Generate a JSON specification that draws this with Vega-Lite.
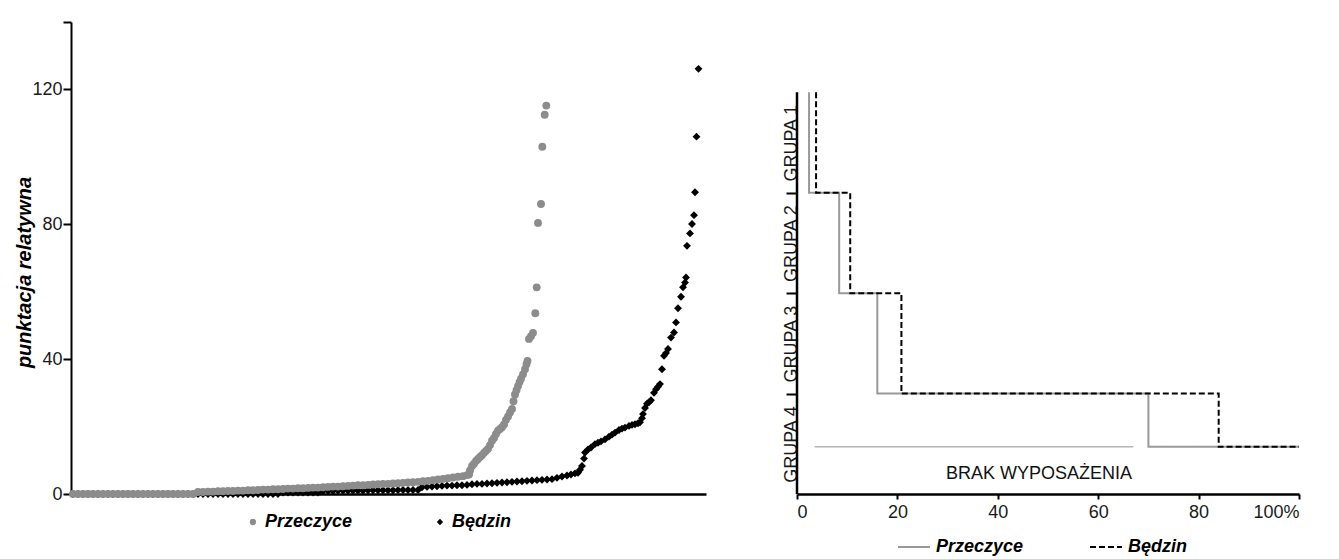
{
  "$schema": "https://vega.github.io/schema/vega-lite/v6.json",
  "background": "white",
  "padding": {"left": 14, "top": 21, "right": 0, "bottom": 0},
  "config": {
    "font": "Liberation Sans",
    "view": {"stroke": null},
    "axis": {
      "grid": false,
      "domainColor": "#000000",
      "domainWidth": 2,
      "tickColor": "#000000",
      "tickWidth": 1.5,
      "labelFont": "Liberation Sans",
      "labelFontSize": 18,
      "labelColor": "#1a1a1a"
    }
  },
  "resolve": {
    "scale": {"color": "independent", "shape": "independent", "strokeDash": "independent"},
    "legend": {"color": "independent", "shape": "independent", "strokeDash": "independent"}
  },
  "spacing": 75,
  "hconcat": [
    {
      "width": 635,
      "height": 472,
      "data": {
        "values": [
          {"miasto": "Będzin", "nr": 2, "punkty": 0}, {"miasto": "Będzin", "nr": 7, "punkty": 0}, {"miasto": "Będzin", "nr": 12, "punkty": 0},
          {"miasto": "Będzin", "nr": 17, "punkty": 0}, {"miasto": "Będzin", "nr": 22, "punkty": 0}, {"miasto": "Będzin", "nr": 27, "punkty": 0},
          {"miasto": "Będzin", "nr": 32, "punkty": 0}, {"miasto": "Będzin", "nr": 37, "punkty": 0}, {"miasto": "Będzin", "nr": 42, "punkty": 0},
          {"miasto": "Będzin", "nr": 47, "punkty": 0}, {"miasto": "Będzin", "nr": 52, "punkty": 0}, {"miasto": "Będzin", "nr": 57, "punkty": 0},
          {"miasto": "Będzin", "nr": 62, "punkty": 0}, {"miasto": "Będzin", "nr": 67, "punkty": 0}, {"miasto": "Będzin", "nr": 72, "punkty": 0},
          {"miasto": "Będzin", "nr": 77, "punkty": 0}, {"miasto": "Będzin", "nr": 82, "punkty": 0}, {"miasto": "Będzin", "nr": 87, "punkty": 0},
          {"miasto": "Będzin", "nr": 92, "punkty": 0}, {"miasto": "Będzin", "nr": 97, "punkty": 0}, {"miasto": "Będzin", "nr": 102, "punkty": 0},
          {"miasto": "Będzin", "nr": 107, "punkty": 0}, {"miasto": "Będzin", "nr": 112, "punkty": 0}, {"miasto": "Będzin", "nr": 117, "punkty": 0},
          {"miasto": "Będzin", "nr": 122, "punkty": 0}, {"miasto": "Będzin", "nr": 127, "punkty": 0}, {"miasto": "Będzin", "nr": 132, "punkty": 0},
          {"miasto": "Będzin", "nr": 137, "punkty": 0}, {"miasto": "Będzin", "nr": 142, "punkty": 0}, {"miasto": "Będzin", "nr": 147, "punkty": 0},
          {"miasto": "Będzin", "nr": 152, "punkty": 0}, {"miasto": "Będzin", "nr": 157, "punkty": 0}, {"miasto": "Będzin", "nr": 162, "punkty": 0},
          {"miasto": "Będzin", "nr": 167, "punkty": 0}, {"miasto": "Będzin", "nr": 172, "punkty": 0}, {"miasto": "Będzin", "nr": 177, "punkty": 0},
          {"miasto": "Będzin", "nr": 182, "punkty": 0}, {"miasto": "Będzin", "nr": 187, "punkty": 0}, {"miasto": "Będzin", "nr": 192, "punkty": 0},
          {"miasto": "Będzin", "nr": 197, "punkty": 0}, {"miasto": "Będzin", "nr": 202, "punkty": 0}, {"miasto": "Będzin", "nr": 207, "punkty": 0},
          {"miasto": "Będzin", "nr": 212, "punkty": 0.4}, {"miasto": "Będzin", "nr": 217, "punkty": 0.4}, {"miasto": "Będzin", "nr": 222, "punkty": 0.4},
          {"miasto": "Będzin", "nr": 227, "punkty": 0.4}, {"miasto": "Będzin", "nr": 232, "punkty": 0.4}, {"miasto": "Będzin", "nr": 237, "punkty": 0.4},
          {"miasto": "Będzin", "nr": 242, "punkty": 0.4}, {"miasto": "Będzin", "nr": 247, "punkty": 0.4},
          {"miasto": "Będzin", "nr": 252, "punkty": 0.9}, {"miasto": "Będzin", "nr": 257, "punkty": 0.9}, {"miasto": "Będzin", "nr": 262, "punkty": 0.9},
          {"miasto": "Będzin", "nr": 267, "punkty": 1.0}, {"miasto": "Będzin", "nr": 272, "punkty": 1.0}, {"miasto": "Będzin", "nr": 277, "punkty": 1.0},
          {"miasto": "Będzin", "nr": 282, "punkty": 1.0}, {"miasto": "Będzin", "nr": 287, "punkty": 1.0}, {"miasto": "Będzin", "nr": 292, "punkty": 1.0},
          {"miasto": "Będzin", "nr": 297, "punkty": 1.1}, {"miasto": "Będzin", "nr": 302, "punkty": 1.1}, {"miasto": "Będzin", "nr": 307, "punkty": 1.1},
          {"miasto": "Będzin", "nr": 312, "punkty": 1.1}, {"miasto": "Będzin", "nr": 317, "punkty": 1.1}, {"miasto": "Będzin", "nr": 322, "punkty": 1.1},
          {"miasto": "Będzin", "nr": 327, "punkty": 1.2}, {"miasto": "Będzin", "nr": 332, "punkty": 1.2}, {"miasto": "Będzin", "nr": 337, "punkty": 1.2},
          {"miasto": "Będzin", "nr": 342, "punkty": 1.2}, {"miasto": "Będzin", "nr": 347, "punkty": 1.2},
          {"miasto": "Będzin", "nr": 351, "punkty": 2.0}, {"miasto": "Będzin", "nr": 356, "punkty": 2.1}, {"miasto": "Będzin", "nr": 361, "punkty": 2.2},
          {"miasto": "Będzin", "nr": 366, "punkty": 2.3}, {"miasto": "Będzin", "nr": 371, "punkty": 2.4}, {"miasto": "Będzin", "nr": 376, "punkty": 2.5},
          {"miasto": "Będzin", "nr": 381, "punkty": 2.5}, {"miasto": "Będzin", "nr": 386, "punkty": 2.6}, {"miasto": "Będzin", "nr": 391, "punkty": 2.6},
          {"miasto": "Będzin", "nr": 396, "punkty": 2.7}, {"miasto": "Będzin", "nr": 401, "punkty": 2.9}, {"miasto": "Będzin", "nr": 406, "punkty": 3.0},
          {"miasto": "Będzin", "nr": 411, "punkty": 3.0}, {"miasto": "Będzin", "nr": 416, "punkty": 3.1}, {"miasto": "Będzin", "nr": 421, "punkty": 3.2},
          {"miasto": "Będzin", "nr": 426, "punkty": 3.3}, {"miasto": "Będzin", "nr": 431, "punkty": 3.4}, {"miasto": "Będzin", "nr": 436, "punkty": 3.5},
          {"miasto": "Będzin", "nr": 441, "punkty": 3.6}, {"miasto": "Będzin", "nr": 446, "punkty": 3.7}, {"miasto": "Będzin", "nr": 451, "punkty": 3.8},
          {"miasto": "Będzin", "nr": 456, "punkty": 3.9}, {"miasto": "Będzin", "nr": 461, "punkty": 4.0}, {"miasto": "Będzin", "nr": 466, "punkty": 4.1},
          {"miasto": "Będzin", "nr": 471, "punkty": 4.2}, {"miasto": "Będzin", "nr": 476, "punkty": 4.3}, {"miasto": "Będzin", "nr": 481, "punkty": 4.4},
          {"miasto": "Będzin", "nr": 486, "punkty": 4.8}, {"miasto": "Będzin", "nr": 491, "punkty": 5.2}, {"miasto": "Będzin", "nr": 496, "punkty": 5.5},
          {"miasto": "Będzin", "nr": 500, "punkty": 5.8}, {"miasto": "Będzin", "nr": 504, "punkty": 6.1}, {"miasto": "Będzin", "nr": 507, "punkty": 6.3},
          {"miasto": "Będzin", "nr": 509, "punkty": 7.2}, {"miasto": "Będzin", "nr": 511, "punkty": 8.3}, {"miasto": "Będzin", "nr": 513, "punkty": 10.5},
          {"miasto": "Będzin", "nr": 514, "punkty": 12.3}, {"miasto": "Będzin", "nr": 517, "punkty": 13.2}, {"miasto": "Będzin", "nr": 520, "punkty": 13.8},
          {"miasto": "Będzin", "nr": 524, "punkty": 14.8}, {"miasto": "Będzin", "nr": 527, "punkty": 15.2}, {"miasto": "Będzin", "nr": 530, "punkty": 15.6},
          {"miasto": "Będzin", "nr": 534, "punkty": 16.2}, {"miasto": "Będzin", "nr": 538, "punkty": 17.0}, {"miasto": "Będzin", "nr": 541, "punkty": 17.6},
          {"miasto": "Będzin", "nr": 544, "punkty": 18.2}, {"miasto": "Będzin", "nr": 548, "punkty": 19.0}, {"miasto": "Będzin", "nr": 551, "punkty": 19.4},
          {"miasto": "Będzin", "nr": 554, "punkty": 19.7}, {"miasto": "Będzin", "nr": 558, "punkty": 20.2}, {"miasto": "Będzin", "nr": 561, "punkty": 20.5},
          {"miasto": "Będzin", "nr": 564, "punkty": 20.7}, {"miasto": "Będzin", "nr": 567, "punkty": 21.0}, {"miasto": "Będzin", "nr": 569, "punkty": 21.3},
          {"miasto": "Będzin", "nr": 571, "punkty": 22.5}, {"miasto": "Będzin", "nr": 572, "punkty": 23.7}, {"miasto": "Będzin", "nr": 574, "punkty": 25.5},
          {"miasto": "Będzin", "nr": 576, "punkty": 26.8}, {"miasto": "Będzin", "nr": 578, "punkty": 27.2}, {"miasto": "Będzin", "nr": 580, "punkty": 27.8},
          {"miasto": "Będzin", "nr": 583, "punkty": 30.0}, {"miasto": "Będzin", "nr": 585, "punkty": 31.1}, {"miasto": "Będzin", "nr": 587, "punkty": 31.8},
          {"miasto": "Będzin", "nr": 589, "punkty": 32.6}, {"miasto": "Będzin", "nr": 591, "punkty": 37.0}, {"miasto": "Będzin", "nr": 593, "punkty": 41.0},
          {"miasto": "Będzin", "nr": 595, "punkty": 41.8}, {"miasto": "Będzin", "nr": 597, "punkty": 43.0}, {"miasto": "Będzin", "nr": 600, "punkty": 46.4},
          {"miasto": "Będzin", "nr": 603, "punkty": 47.9}, {"miasto": "Będzin", "nr": 605, "punkty": 50.9}, {"miasto": "Będzin", "nr": 607, "punkty": 55.1},
          {"miasto": "Będzin", "nr": 610, "punkty": 58.5}, {"miasto": "Będzin", "nr": 612, "punkty": 61.3}, {"miasto": "Będzin", "nr": 614, "punkty": 62.7},
          {"miasto": "Będzin", "nr": 615, "punkty": 64.2}, {"miasto": "Będzin", "nr": 616, "punkty": 73.6}, {"miasto": "Będzin", "nr": 619, "punkty": 77.3},
          {"miasto": "Będzin", "nr": 621, "punkty": 80.1}, {"miasto": "Będzin", "nr": 623, "punkty": 82.7}, {"miasto": "Będzin", "nr": 624, "punkty": 89.5},
          {"miasto": "Będzin", "nr": 625.5, "punkty": 106.0}, {"miasto": "Będzin", "nr": 627.5, "punkty": 126.1},

          {"miasto": "Przeczyce", "nr": 2, "punkty": 0}, {"miasto": "Przeczyce", "nr": 7, "punkty": 0}, {"miasto": "Przeczyce", "nr": 12, "punkty": 0},
          {"miasto": "Przeczyce", "nr": 17, "punkty": 0}, {"miasto": "Przeczyce", "nr": 22, "punkty": 0}, {"miasto": "Przeczyce", "nr": 27, "punkty": 0},
          {"miasto": "Przeczyce", "nr": 32, "punkty": 0}, {"miasto": "Przeczyce", "nr": 37, "punkty": 0}, {"miasto": "Przeczyce", "nr": 42, "punkty": 0},
          {"miasto": "Przeczyce", "nr": 47, "punkty": 0}, {"miasto": "Przeczyce", "nr": 52, "punkty": 0}, {"miasto": "Przeczyce", "nr": 57, "punkty": 0},
          {"miasto": "Przeczyce", "nr": 62, "punkty": 0}, {"miasto": "Przeczyce", "nr": 67, "punkty": 0}, {"miasto": "Przeczyce", "nr": 72, "punkty": 0},
          {"miasto": "Przeczyce", "nr": 77, "punkty": 0}, {"miasto": "Przeczyce", "nr": 82, "punkty": 0}, {"miasto": "Przeczyce", "nr": 87, "punkty": 0},
          {"miasto": "Przeczyce", "nr": 92, "punkty": 0}, {"miasto": "Przeczyce", "nr": 97, "punkty": 0}, {"miasto": "Przeczyce", "nr": 102, "punkty": 0},
          {"miasto": "Przeczyce", "nr": 107, "punkty": 0}, {"miasto": "Przeczyce", "nr": 112, "punkty": 0}, {"miasto": "Przeczyce", "nr": 117, "punkty": 0},
          {"miasto": "Przeczyce", "nr": 122, "punkty": 0},
          {"miasto": "Przeczyce", "nr": 127, "punkty": 0.6}, {"miasto": "Przeczyce", "nr": 132, "punkty": 0.6}, {"miasto": "Przeczyce", "nr": 137, "punkty": 0.7},
          {"miasto": "Przeczyce", "nr": 142, "punkty": 0.7}, {"miasto": "Przeczyce", "nr": 147, "punkty": 0.8}, {"miasto": "Przeczyce", "nr": 152, "punkty": 0.8},
          {"miasto": "Przeczyce", "nr": 157, "punkty": 0.9}, {"miasto": "Przeczyce", "nr": 162, "punkty": 0.9}, {"miasto": "Przeczyce", "nr": 167, "punkty": 1.0},
          {"miasto": "Przeczyce", "nr": 172, "punkty": 1.0}, {"miasto": "Przeczyce", "nr": 177, "punkty": 1.1}, {"miasto": "Przeczyce", "nr": 182, "punkty": 1.1},
          {"miasto": "Przeczyce", "nr": 187, "punkty": 1.2}, {"miasto": "Przeczyce", "nr": 192, "punkty": 1.3}, {"miasto": "Przeczyce", "nr": 197, "punkty": 1.3},
          {"miasto": "Przeczyce", "nr": 202, "punkty": 1.4}, {"miasto": "Przeczyce", "nr": 207, "punkty": 1.4}, {"miasto": "Przeczyce", "nr": 212, "punkty": 1.5},
          {"miasto": "Przeczyce", "nr": 217, "punkty": 1.6}, {"miasto": "Przeczyce", "nr": 222, "punkty": 1.6}, {"miasto": "Przeczyce", "nr": 227, "punkty": 1.7},
          {"miasto": "Przeczyce", "nr": 232, "punkty": 1.7}, {"miasto": "Przeczyce", "nr": 237, "punkty": 1.8}, {"miasto": "Przeczyce", "nr": 242, "punkty": 1.9},
          {"miasto": "Przeczyce", "nr": 247, "punkty": 1.9}, {"miasto": "Przeczyce", "nr": 252, "punkty": 2.0}, {"miasto": "Przeczyce", "nr": 257, "punkty": 2.1},
          {"miasto": "Przeczyce", "nr": 262, "punkty": 2.2}, {"miasto": "Przeczyce", "nr": 267, "punkty": 2.2}, {"miasto": "Przeczyce", "nr": 272, "punkty": 2.3},
          {"miasto": "Przeczyce", "nr": 277, "punkty": 2.4}, {"miasto": "Przeczyce", "nr": 282, "punkty": 2.5}, {"miasto": "Przeczyce", "nr": 287, "punkty": 2.6},
          {"miasto": "Przeczyce", "nr": 292, "punkty": 2.6}, {"miasto": "Przeczyce", "nr": 297, "punkty": 2.7}, {"miasto": "Przeczyce", "nr": 302, "punkty": 2.8},
          {"miasto": "Przeczyce", "nr": 307, "punkty": 2.9}, {"miasto": "Przeczyce", "nr": 312, "punkty": 3.0}, {"miasto": "Przeczyce", "nr": 317, "punkty": 3.0},
          {"miasto": "Przeczyce", "nr": 322, "punkty": 3.1}, {"miasto": "Przeczyce", "nr": 327, "punkty": 3.2}, {"miasto": "Przeczyce", "nr": 332, "punkty": 3.3},
          {"miasto": "Przeczyce", "nr": 337, "punkty": 3.4}, {"miasto": "Przeczyce", "nr": 342, "punkty": 3.5}, {"miasto": "Przeczyce", "nr": 347, "punkty": 3.6},
          {"miasto": "Przeczyce", "nr": 352, "punkty": 3.8}, {"miasto": "Przeczyce", "nr": 357, "punkty": 3.9}, {"miasto": "Przeczyce", "nr": 362, "punkty": 4.1},
          {"miasto": "Przeczyce", "nr": 367, "punkty": 4.3}, {"miasto": "Przeczyce", "nr": 372, "punkty": 4.5}, {"miasto": "Przeczyce", "nr": 377, "punkty": 4.7},
          {"miasto": "Przeczyce", "nr": 382, "punkty": 4.9}, {"miasto": "Przeczyce", "nr": 387, "punkty": 5.1}, {"miasto": "Przeczyce", "nr": 392, "punkty": 5.3},
          {"miasto": "Przeczyce", "nr": 396, "punkty": 5.6}, {"miasto": "Przeczyce", "nr": 398, "punkty": 5.8}, {"miasto": "Przeczyce", "nr": 399, "punkty": 7.0},
          {"miasto": "Przeczyce", "nr": 401, "punkty": 8.3}, {"miasto": "Przeczyce", "nr": 403, "punkty": 9.0}, {"miasto": "Przeczyce", "nr": 405, "punkty": 9.8},
          {"miasto": "Przeczyce", "nr": 407, "punkty": 10.4}, {"miasto": "Przeczyce", "nr": 409, "punkty": 11.0}, {"miasto": "Przeczyce", "nr": 411, "punkty": 11.5},
          {"miasto": "Przeczyce", "nr": 413, "punkty": 12.2}, {"miasto": "Przeczyce", "nr": 415, "punkty": 12.8}, {"miasto": "Przeczyce", "nr": 417, "punkty": 13.4},
          {"miasto": "Przeczyce", "nr": 419, "punkty": 14.5}, {"miasto": "Przeczyce", "nr": 421, "punkty": 15.8}, {"miasto": "Przeczyce", "nr": 423, "punkty": 16.6},
          {"miasto": "Przeczyce", "nr": 425, "punkty": 17.8}, {"miasto": "Przeczyce", "nr": 427, "punkty": 18.8}, {"miasto": "Przeczyce", "nr": 429, "punkty": 19.3},
          {"miasto": "Przeczyce", "nr": 431, "punkty": 19.8}, {"miasto": "Przeczyce", "nr": 433, "punkty": 20.6}, {"miasto": "Przeczyce", "nr": 435, "punkty": 22.0},
          {"miasto": "Przeczyce", "nr": 437, "punkty": 23.0}, {"miasto": "Przeczyce", "nr": 439, "punkty": 24.2}, {"miasto": "Przeczyce", "nr": 441, "punkty": 25.2},
          {"miasto": "Przeczyce", "nr": 442.5, "punkty": 27.5}, {"miasto": "Przeczyce", "nr": 444, "punkty": 29.5}, {"miasto": "Przeczyce", "nr": 445.5, "punkty": 30.8},
          {"miasto": "Przeczyce", "nr": 447, "punkty": 32.0}, {"miasto": "Przeczyce", "nr": 448.5, "punkty": 33.2}, {"miasto": "Przeczyce", "nr": 450, "punkty": 34.2},
          {"miasto": "Przeczyce", "nr": 452, "punkty": 35.5}, {"miasto": "Przeczyce", "nr": 454, "punkty": 37.0}, {"miasto": "Przeczyce", "nr": 455.5, "punkty": 38.5},
          {"miasto": "Przeczyce", "nr": 456.5, "punkty": 39.5}, {"miasto": "Przeczyce", "nr": 458, "punkty": 46.0}, {"miasto": "Przeczyce", "nr": 460, "punkty": 46.8},
          {"miasto": "Przeczyce", "nr": 462, "punkty": 47.8}, {"miasto": "Przeczyce", "nr": 464.3, "punkty": 53.6}, {"miasto": "Przeczyce", "nr": 465.7, "punkty": 61.3},
          {"miasto": "Przeczyce", "nr": 467, "punkty": 80.4}, {"miasto": "Przeczyce", "nr": 470, "punkty": 86.0}, {"miasto": "Przeczyce", "nr": 471.3, "punkty": 103.0},
          {"miasto": "Przeczyce", "nr": 473.7, "punkty": 112.5}, {"miasto": "Przeczyce", "nr": 475.3, "punkty": 115.2}
        ]
      },
      "mark": {"type": "point", "filled": true, "opacity": 1, "size": 62},
      "encoding": {
        "x": {
          "field": "nr", "type": "quantitative",
          "scale": {"domain": [0, 635], "nice": false, "zero": false},
          "axis": {"title": null, "labels": false, "ticks": false, "domainColor": "#000000", "domainWidth": 2.5}
        },
        "y": {
          "field": "punkty", "type": "quantitative",
          "scale": {"domain": [0, 140], "nice": false},
          "axis": {
            "title": "punktacja relatywna",
            "values": [0, 40, 80, 120, 140],
            "labelExpr": "datum.value == 140 ? '' : datum.label",
            "domainColor": "#000000",
            "domainWidth": 2,
            "tickColor": "#000000",
            "tickWidth": 2,
            "tickSize": 8,
            "labelPadding": 1,
            "titleFont": "Liberation Sans",
            "titleFontSize": 20,
            "titleFontWeight": "bold",
            "titleFontStyle": "italic",
            "titleColor": "#000000",
            "titlePadding": -3,
            "titleY": 250
          }
        },
        "color": {
          "field": "miasto", "type": "nominal",
          "scale": {"domain": ["Przeczyce", "Będzin"], "range": ["#8c8c8c", "#000000"]},
          "legend": {
            "title": null, "orient": "none", "legendX": 173, "legendY": 491, "direction": "horizontal",
            "labelFont": "Liberation Sans", "labelFontSize": 18, "labelFontStyle": "italic", "labelFontWeight": "bold",
            "labelColor": "#000000", "symbolSize": 40, "labelOffset": 3, "columnPadding": 78
          }
        },
        "shape": {
          "field": "miasto", "type": "nominal",
          "scale": {"domain": ["Przeczyce", "Będzin"], "range": ["circle", "diamond"]},
          "legend": {
            "title": null, "orient": "none", "legendX": 173, "legendY": 491, "direction": "horizontal",
            "labelFont": "Liberation Sans", "labelFontSize": 18, "labelFontStyle": "italic", "labelFontWeight": "bold",
            "labelColor": "#000000", "symbolSize": 40, "labelOffset": 3, "columnPadding": 78
          }
        }
      }
    },
    {
      "width": 502,
      "height": 472,
      "layer": [
        {
          "data": {
            "values": [
              {"miasto": "Przeczyce", "udzial": 2.4, "poziom": 4},
              {"miasto": "Przeczyce", "udzial": 8.4, "poziom": 3},
              {"miasto": "Przeczyce", "udzial": 16.0, "poziom": 2},
              {"miasto": "Przeczyce", "udzial": 70.0, "poziom": 1},
              {"miasto": "Przeczyce", "udzial": 100, "poziom": 0.47},
              {"miasto": "Będzin", "udzial": 3.8, "poziom": 4},
              {"miasto": "Będzin", "udzial": 10.6, "poziom": 3},
              {"miasto": "Będzin", "udzial": 20.8, "poziom": 2},
              {"miasto": "Będzin", "udzial": 84.0, "poziom": 1},
              {"miasto": "Będzin", "udzial": 100, "poziom": 0.47}
            ]
          },
          "mark": {"type": "line", "interpolate": "step-before", "strokeWidth": 2},
          "encoding": {
            "x": {
              "field": "udzial", "type": "quantitative",
              "scale": {"domain": [0, 100], "nice": false},
              "axis": {
                "title": null,
                "values": [0, 20, 40, 60, 80, 100],
                "labelExpr": "datum.value == 100 ? '100%' : datum.label",
                "domainColor": "#000000",
                "domainWidth": 2.5,
                "tickColor": "#000000",
                "tickWidth": 2,
                "tickSize": 5,
                "labelPadding": 4
              }
            },
            "y": {
              "field": "poziom", "type": "quantitative",
              "scale": {"domain": [0, 4.7], "nice": false},
              "axis": {
                "title": null,
                "domain": false,
                "values": [0, 1, 2, 3],
                "labelExpr": "['GRUPA 4', 'GRUPA 3', 'GRUPA 2', 'GRUPA 1'][datum.value]",
                "labelAngle": -90,
                "labelOffset": -50,
                "labelFontSize": 18,
                "tickColor": "#000000",
                "tickWidth": 2,
                "tickSize": 11,
                "tickOpacity": {"condition": {"test": "datum.value == 0", "value": 0}, "value": 1},
                "labelPadding": -14
              }
            },
            "color": {
              "field": "miasto", "type": "nominal",
              "scale": {"domain": ["Przeczyce", "Będzin"], "range": ["#999999", "#000000"]},
              "legend": {
                "title": null, "orient": "none", "legendX": 100, "legendY": 508, "direction": "horizontal",
                "labelFont": "Liberation Sans", "labelFontSize": 18, "labelFontStyle": "italic", "labelFontWeight": "bold",
                "labelColor": "#000000", "symbolSize": 1024, "symbolStrokeWidth": 2, "labelOffset": 5, "columnPadding": 62
              }
            },
            "strokeDash": {
              "field": "miasto", "type": "nominal",
              "scale": {"domain": ["Przeczyce", "Będzin"], "range": [[1, 0], [6, 3]]},
              "legend": {
                "title": null, "orient": "none", "legendX": 100, "legendY": 508, "direction": "horizontal",
                "labelFont": "Liberation Sans", "labelFontSize": 18, "labelFontStyle": "italic", "labelFontWeight": "bold",
                "labelColor": "#000000", "symbolSize": 1024, "symbolStrokeWidth": 2, "labelOffset": 5, "columnPadding": 62
              }
            }
          }
        },
        {
          "data": {"values": [{"udzial": 0, "od": 0, "do": 4}]},
          "mark": {"type": "rule", "color": "#000000", "strokeWidth": 2.5},
          "encoding": {
            "x": {"field": "udzial", "type": "quantitative"},
            "y": {"field": "od", "type": "quantitative"},
            "y2": {"field": "do"}
          }
        },
        {
          "data": {"values": [{"od": 3.5, "do": 67, "poziom": 0.47}]},
          "mark": {"type": "rule", "color": "#b5b5b5", "strokeWidth": 1.5},
          "encoding": {
            "x": {"field": "od", "type": "quantitative"},
            "x2": {"field": "do"},
            "y": {"field": "poziom", "type": "quantitative"}
          }
        },
        {
          "data": {"values": [{"opis": "BRAK WYPOSAŻENIA", "udzial": 48.2, "poziom": 0.2}]},
          "mark": {"type": "text", "font": "Liberation Sans", "fontSize": 18, "color": "#111111"},
          "encoding": {
            "x": {"field": "udzial", "type": "quantitative"},
            "y": {"field": "poziom", "type": "quantitative"},
            "text": {"field": "opis"}
          }
        }
      ]
    }
  ]
}
